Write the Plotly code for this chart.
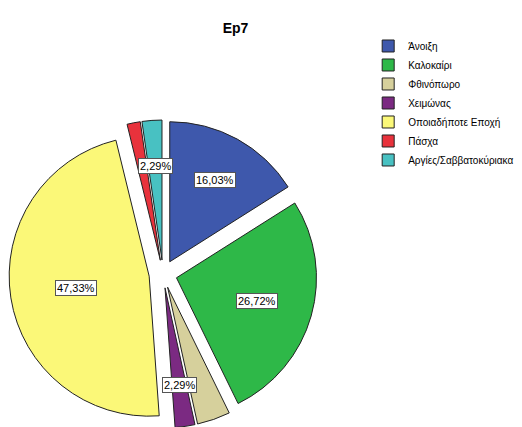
import numpy as np
import plotly.graph_objects as go

labels = ["Άνοιξη", "Καλοκαίρι", "Φθινόπωρο", "Χειμώνας",
          "Οποιαδήποτε Εποχή", "Πάσχα", "Αργίες/Σαββατοκύριακα"]
values = [16.03, 26.72, 3.82, 2.29, 47.33, 1.53, 2.29]
shown = [True, True, False, True, True, False, True]
colors = ["#3e58ac", "#2eb848", "#d6d09c", "#7b2a82",
          "#fbf878", "#e8323c", "#48c1c2"]

W, H = 522, 427
pull = 0.1
dom_x = [0.0, 310 / W]
dom_y = [1 - 420 / H, 1 - 112 / H]

fig = go.Figure(go.Pie(
    labels=labels, values=values, sort=False, direction="clockwise",
    rotation=0, pull=[pull] * len(values),
    marker=dict(colors=colors, line=dict(color="#222222", width=1)),
    textinfo="none", hoverinfo="label+percent",
    domain=dict(x=dom_x, y=dom_y),
))

# label boxes placed from the data's slice angles
dw = (dom_x[1] - dom_x[0]) * W
dh = (dom_y[1] - dom_y[0]) * H
r = min(dw, dh) / 2 / (1 + pull)
cx = (dom_x[0] + dom_x[1]) / 2 * W
cy = (1 - (dom_y[0] + dom_y[1]) / 2) * H
vals = np.array(values)
cum = np.cumsum(vals) - vals / 2
mid = cum / vals.sum() * 2 * np.pi
frac = [0.67, 0.6, 0.7, 0.7, 0.53, 0.7, 0.67]
for i, lab in enumerate(labels):
    if not shown[i]:
        continue
    d = (frac[i] + pull) * r
    px = cx + d * np.sin(mid[i])
    py = cy - d * np.cos(mid[i])
    fig.add_annotation(
        x=px / W, y=1 - py / H, xref="paper", yref="paper",
        xanchor="center", yanchor="middle",
        text=f"{values[i]:.2f}%".replace(".", ","), showarrow=False,
        font=dict(family="Liberation Sans, Arial", size=11, color="black"),
        bgcolor="white", bordercolor="#555555", borderwidth=1, borderpad=1,
    )

fig.update_layout(
    width=W, height=H, margin=dict(l=0, r=0, t=0, b=0, autoexpand=False),
    paper_bgcolor="white", plot_bgcolor="white",
    title=dict(text="<b>Ep7</b>", x=0.436, xanchor="center", y=0.952,
               yanchor="middle",
               font=dict(family="Liberation Sans, Arial", size=14, color="black")),
    legend=dict(x=0.69, y=0.945, xanchor="left", yanchor="top",
                font=dict(family="Liberation Sans, Arial", size=10, color="black"),
                bgcolor="rgba(0,0,0,0)", traceorder="normal", itemwidth=30),
    showlegend=True,
)

fig.write_html("out.html")
